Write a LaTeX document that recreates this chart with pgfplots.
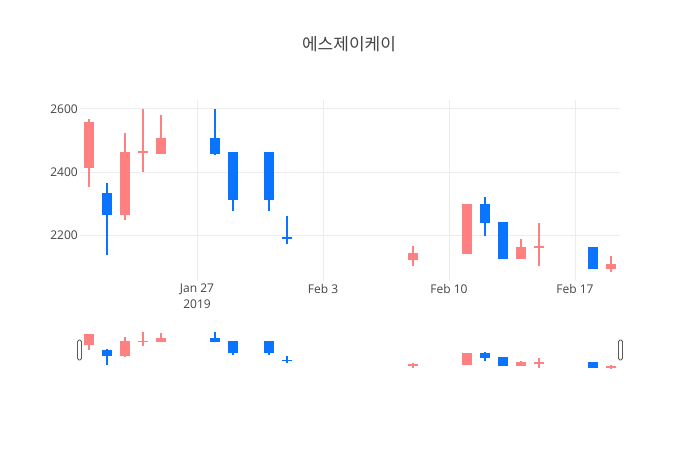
\documentclass[border=0pt]{standalone}
\usepackage{pgfplots}
\pgfplotsset{compat=1.18}
\usepackage{pgfplotstable}
\usepackage{fontspec}
\setmainfont{Open Sans}
\newfontfamily\cjk{Noto Sans CJK KR}
\definecolor{upc}{RGB}{255,128,128}
\definecolor{dnc}{RGB}{10,116,255}
\definecolor{txt}{RGB}{68,68,68}
\definecolor{grd}{RGB}{236,236,236}
\definecolor{hdl}{RGB}{90,90,90}

% x = day number (Jan 21 = 21, Feb 1 = 32, ...)
\pgfplotstableread{
x  bodylo bodyhi wicklo wickhi
21 2414 2558 2352 2569
23 2263 2464 2249 2525
24 2459 2465 2401 2600
25 2458 2507 2458 2580
39 2120 2143 2103 2166
42 2139 2298 2139 2298
45 2124 2163 2124 2189
46 2159 2165 2102 2240
50 2094 2109 2082 2134
}\upcandles

\pgfplotstableread{
x  bodylo bodyhi wicklo wickhi
22 2263 2333 2137 2365
28 2458 2507 2455 2600
29 2310 2464 2276 2464
31 2310 2464 2276 2464
32 2188 2194 2172 2261
43 2239 2298 2196 2320
44 2124 2243 2124 2243
49 2094 2163 2094 2163
}\downcandles

\pgfplotsset{
  candleset/.style n args={2}{
    draw=none, mark=none, forget plot,
    error bars/.cd, y dir=plus, y explicit, error mark=none,
    error bar style={draw=#1, line width=#2, line cap=butt}
  }
}

\newcommand{\candles}[1]{%
  \addplot[candleset={upc}{2pt}] table[x=x, y=wicklo, y error expr=\thisrow{wickhi}-\thisrow{wicklo}] {\upcandles};
  \addplot[candleset={upc}{10.5pt}] table[x=x, y=bodylo, y error expr=\thisrow{bodyhi}-\thisrow{bodylo}+#1] {\upcandles};
  \addplot[candleset={dnc}{2pt}] table[x=x, y=wicklo, y error expr=\thisrow{wickhi}-\thisrow{wicklo}] {\downcandles};
  \addplot[candleset={dnc}{10.5pt}] table[x=x, y=bodylo, y error expr=\thisrow{bodyhi}-\thisrow{bodylo}+#1] {\downcandles};
}

\begin{document}
\begin{tikzpicture}[x=1pt,y=1pt]
\path[use as bounding box] (0pt,0pt) rectangle (700pt,450pt);
\node[font=\cjk\fontsize{17}{20}\selectfont, text=txt] at (349pt,406pt) {에스제이케이};

\begin{axis}[
  at={(80pt,169pt)}, anchor=south west,
  width=540pt, height=181pt, scale only axis,
  xmin=20.5, xmax=50.5, ymin=2055, ymax=2628,
  axis line style={draw=none},
  major tick length=0pt,
  xtick={27,34,41,48},
  xticklabels={{Jan 27\\2019},{Feb 3},{Feb 10},{Feb 17}},
  xticklabel style={align=center, font=\fontsize{12}{16}\selectfont, text=txt, inner sep=0pt, anchor=north, yshift=-3pt},
  ytick={2200,2400,2600},
  yticklabel style={font=\fontsize{12}{14}\selectfont, text=txt, inner sep=0pt, anchor=east, xshift=-2pt},
  /pgf/number format/assume math mode=true,
  /pgf/number format/1000 sep={},
  xmajorgrids, ymajorgrids,
  grid style={draw=grd, line width=1pt},
  clip=false,
]
\candles{0}
\end{axis}

\begin{axis}[
  at={(80pt,79pt)}, anchor=south west,
  width=540pt, height=41pt, scale only axis,
  xmin=20.5, xmax=50.5, ymin=2055, ymax=2628,
  hide axis, clip=false,
]
\candles{12}
\end{axis}

\draw[rounded corners=1.5pt, fill=white, draw=hdl, line width=0.8pt] (77.5pt,90pt) rectangle (81.5pt,110pt);
\draw[rounded corners=1.5pt, fill=white, draw=hdl, line width=0.8pt] (618.5pt,90pt) rectangle (622.5pt,110pt);
\end{tikzpicture}
\end{document}
